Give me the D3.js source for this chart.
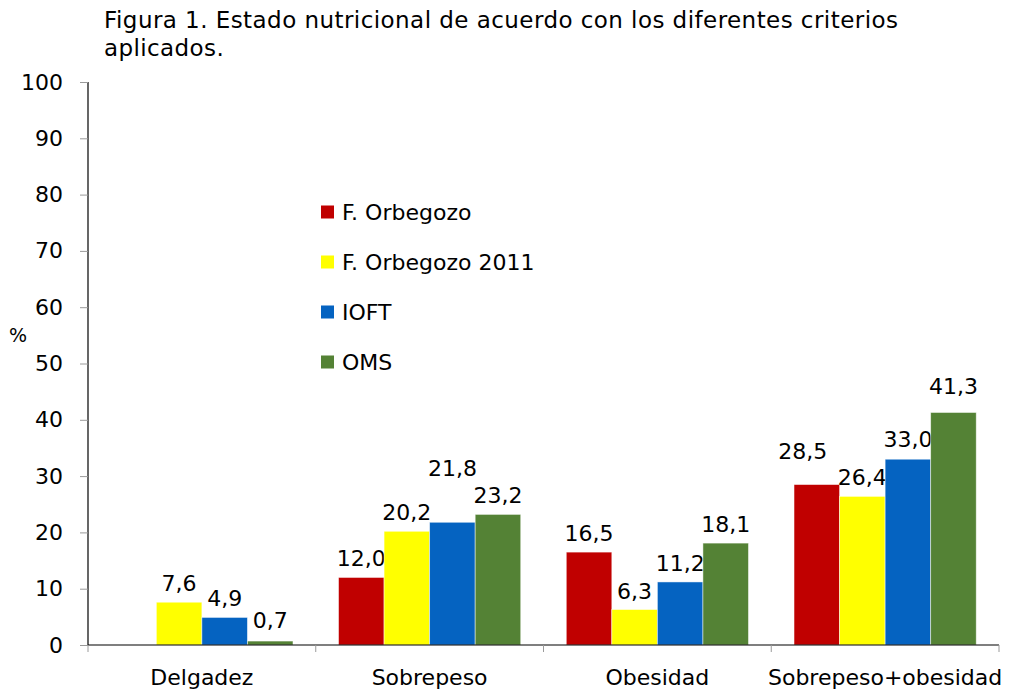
<!DOCTYPE html>
<html>
<head>
<meta charset="utf-8">
<script src="https://cdn.jsdelivr.net/npm/d3@7"></script>
<style>
  html, body { margin: 0; padding: 0; background: #fff; }
  svg text { font-family: "DejaVu Sans", sans-serif; fill: #000; }
</style>
</head>
<body>
<svg id="chart" width="1010" height="693"></svg>
<script>
// ---- data ----
const categories = ["Delgadez", "Sobrepeso", "Obesidad", "Sobrepeso+obesidad"];
const seriesNames = ["F. Orbegozo", "F. Orbegozo 2011", "IOFT", "OMS"];
const fOrbegozo     = [null, 12.0, 16.5, 28.5];
const fOrbegozo2011 = [7.6, 20.2, 6.3, 26.4];
const ioft          = [4.9, 21.8, 11.2, 33.0];
const oms           = [0.7, 23.2, 18.1, 41.3];
const yTicks = [0, 10, 20, 30, 40, 50, 60, 70, 80, 90, 100];
const titleLines = ["Figura 1. Estado nutricional de acuerdo con los diferentes criterios", "aplicados."];
const yLabel = "%";

// ---- styling ----
const colors = ["#C00000", "#FFFF00", "#0563C1", "#548235"];
const FONT = "DejaVu Sans, sans-serif";
// manual label nudges (extra lift, horizontal shift) as in the original
const labelLift = [[0, 0, 0, 15], [0, 0, 0, 0], [0, 35, 0, 1], [2, 0, 0, 7]];
const labelShift = [[0, 0, 0, -14], [0, 0, 0, 0], [0, 0, 0, 0], [0, 0, 0, 0]];

const seriesValues = [fOrbegozo, fOrbegozo2011, ioft, oms];
const svg = d3.select("#chart");
const margin = {left: 88, right: 11, top: 82, bottom: 48};
const W = 1010, H = 693;

const x0 = d3.scaleBand().domain(categories).range([margin.left, W - margin.right]).paddingInner(0).paddingOuter(0);
const x1 = d3.scaleBand().domain(d3.range(seriesNames.length)).range([0, x0.bandwidth()]).paddingInner(0).paddingOuter(0.5);
const y = d3.scaleLinear().domain([0, 100]).range([H - margin.bottom, margin.top]);

// Title
const title = svg.append("g");
titleLines.forEach((t, i) => {
  const tx = title.append("text").attr("x", 104).attr("y", 28 + i * 28).attr("font-size", 23).text(t);
  if (i === 0) tx.attr("textLength", 794).attr("lengthAdjust", "spacing");
  else tx.attr("letter-spacing", 0.4);
});

// Y axis
const yAxis = svg.append("g").attr("transform", `translate(${margin.left},0)`)
  .call(d3.axisLeft(y).tickValues(yTicks).tickSize(8).tickPadding(17).tickFormat(d3.format("d")));
yAxis.select(".domain").attr("stroke", "#000").attr("stroke-width", 1.2);
yAxis.selectAll(".tick line").attr("stroke", "#9a9a9a");
yAxis.selectAll(".tick text").attr("font-size", 22).attr("font-family", FONT).attr("fill", "#000");
yAxis.select(".domain").attr("d", `M-0,${y(100)}V${y(0)}`);

// y label
svg.append("text").attr("x", 18).attr("y", 335).attr("dy", "0.35em").attr("text-anchor", "middle").attr("font-size", 19).text(yLabel);

// Bars
const groups = svg.append("g").selectAll("g").data(categories).join("g")
  .attr("transform", d => `translate(${x0(d)},0)`);

seriesValues.forEach((vals, s) => {
  categories.forEach((c, ci) => {
    const v = vals[ci];
    if (v == null) return;
    const g = groups.filter(d => d === c);
    g.append("rect")
      .attr("x", x1(s)).attr("width", x1.bandwidth())
      .attr("y", y(v)).attr("height", y(0) - y(v))
      .attr("fill", colors[s])
      .attr("stroke", "rgba(255,255,255,0.6)").attr("stroke-width", 0.8);
    g.append("text")
      .attr("x", x1(s) + x1.bandwidth() / 2 + labelShift[s][ci])
      .attr("y", y(v) - 11 - labelLift[s][ci])
      .attr("text-anchor", "middle").attr("font-size", 22)
      .text(d3.format(".1f")(v).replace(".", ","));
  });
});

// X axis
const xAxisG = svg.append("g").attr("transform", `translate(0,${y(0)})`);
xAxisG.append("line").attr("x1", margin.left).attr("x2", W - margin.right).attr("y1", 0).attr("y2", 0)
  .attr("stroke", "#000").attr("stroke-width", 1.2);
const boundaries = categories.map(c => x0(c)).concat([x0(categories[categories.length - 1]) + x0.bandwidth()]);
xAxisG.selectAll("line.tk").data(boundaries).join("line").attr("class", "tk")
  .attr("x1", d => d).attr("x2", d => d).attr("y1", 0).attr("y2", 7).attr("stroke", "#9a9a9a");
xAxisG.selectAll("text").data(categories).join("text")
  .attr("x", d => x0(d) + x0.bandwidth() / 2).attr("y", 40)
  .attr("text-anchor", "middle").attr("font-size", 22).text(d => d);

// Legend
const legend = svg.append("g");
seriesNames.forEach((n, i) => {
  const cy = 212 + i * 50;
  legend.append("rect").attr("x", 321).attr("y", cy - 6.5).attr("width", 13).attr("height", 13).attr("fill", colors[i]);
  legend.append("text").attr("x", 342).attr("y", cy).attr("dy", "0.35em").attr("font-size", 22).text(n);
});
</script>
</body>
</html>
